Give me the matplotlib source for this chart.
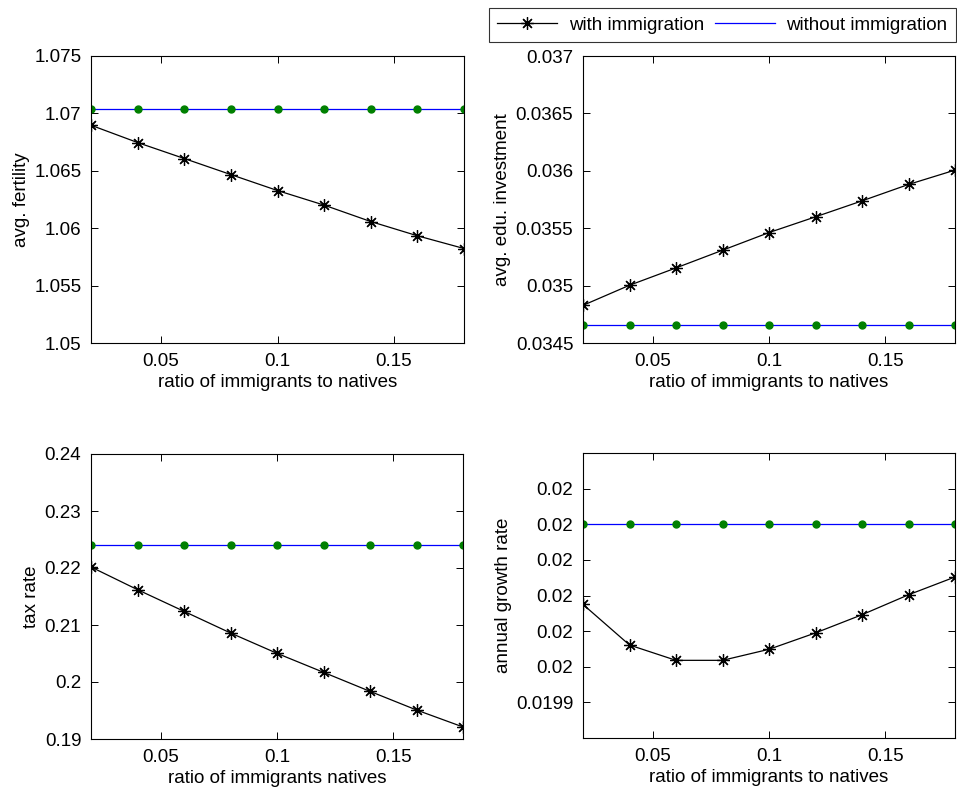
import numpy as np
import matplotlib
matplotlib.use("Agg")
import matplotlib.pyplot as plt
from matplotlib.lines import Line2D

plt.rcParams["font.family"] = ["Liberation Sans", "DejaVu Sans"]
plt.rcParams["font.size"] = 13.5

# immigrant/native ratio grid
ratio = [0.02, 0.04, 0.06, 0.08, 0.10, 0.12, 0.14, 0.16, 0.18]

fert_with = [1.06897, 1.06746, 1.06607, 1.06467, 1.06328, 1.06201, 1.06058, 1.05934, 1.05823]
fert_without = 1.07036

edu_with = [0.034828, 0.035003, 0.035154, 0.035308, 0.035462, 0.035599, 0.035738, 0.035881, 0.036006]
edu_without = 0.034654

tax_with = [0.22018, 0.21620, 0.21240, 0.20860, 0.20503, 0.20170, 0.19836, 0.19509, 0.19211]
tax_without = 0.22409

growth_with = [0.0199275, 0.0199161, 0.0199118, 0.0199118, 0.0199149, 0.0199195, 0.0199246, 0.0199302, 0.0199352]
growth_without = 0.01995
growth_ticks = [0.01990, 0.01991, 0.01992, 0.01993, 0.01994, 0.01995, 0.01996]
growth_tick_labels = ["0.0199", "0.02", "0.02", "0.02", "0.02", "0.02", "0.02"]

W, H = 957, 796
fig = plt.figure(figsize=(W / 100, H / 100), dpi=100)


def px_axes(left, top, right, bottom):
    return fig.add_axes([left / W, 1 - bottom / H, (right - left) / W, (bottom - top) / H])


def panel(ax, with_vals, without_val, ylabel, xlabel, ylim, yticks):
    x = np.array(ratio)
    ax.plot(x, with_vals, color="black", lw=0.9, marker=(8, 2, 0), ms=9, mew=0.9)
    ax.plot(x, [without_val] * len(x), color="blue", lw=0.9)
    ax.plot(x, [without_val] * len(x), ls="none", marker="o", ms=5, color=(0, 0.5, 0))
    ax.set_xlim(0.02, 0.18)
    ax.set_xticks([0.05, 0.1, 0.15])
    ax.set_xticklabels(["0.05", "0.1", "0.15"])
    ax.set_ylim(*ylim)
    ax.set_yticks(yticks)
    ax.set_xlabel(xlabel, labelpad=3)
    ax.set_ylabel(ylabel, labelpad=3)
    ax.tick_params(direction="in", top=True, right=True, length=5, width=0.7, pad=7)
    for s in ax.spines.values():
        s.set_linewidth(0.8)


ax1 = px_axes(91, 56, 464, 343)
panel(ax1, fert_with, fert_without, "avg. fertility", "ratio of immigrants to natives",
      (1.05, 1.075), [1.05, 1.055, 1.06, 1.065, 1.07, 1.075])
ax1.set_yticklabels(["1.05", "1.055", "1.06", "1.065", "1.07", "1.075"])

ax2 = px_axes(583, 56, 955, 343)
panel(ax2, edu_with, edu_without, "avg. edu. investment", "ratio of immigrants to natives",
      (0.0345, 0.037), [0.0345, 0.035, 0.0355, 0.036, 0.0365, 0.037])
ax2.set_yticklabels(["0.0345", "0.035", "0.0355", "0.036", "0.0365", "0.037"])

ax3 = px_axes(91, 454, 463, 739)
panel(ax3, tax_with, tax_without, "tax rate", "ratio of immigrants natives",
      (0.19, 0.24), [0.19, 0.2, 0.21, 0.22, 0.23, 0.24])
ax3.set_yticklabels(["0.19", "0.2", "0.21", "0.22", "0.23", "0.24"])

ax4 = px_axes(583, 453, 955, 738)
panel(ax4, growth_with, growth_without, "annual growth rate", "ratio of immigrants to natives",
      (0.019890, 0.019970), growth_ticks)
ax4.set_yticklabels(growth_tick_labels)

handles = [
    Line2D([], [], color="black", lw=0.9, marker=(8, 2, 0), ms=9, mew=0.9),
    Line2D([], [], color="blue", lw=0.9),
]
leg = fig.legend(handles, ["with immigration", "without immigration"], ncol=2,
                 loc="upper right", bbox_to_anchor=(956 / W, 1 - 8 / H), borderaxespad=0,
                 frameon=True, fancybox=False, edgecolor="black", handlelength=3.2,
                 columnspacing=0.6, borderpad=0.45, handletextpad=0.6, fontsize=13.5)
leg.get_frame().set_linewidth(0.8)

fig.savefig("out.png", dpi=100)
